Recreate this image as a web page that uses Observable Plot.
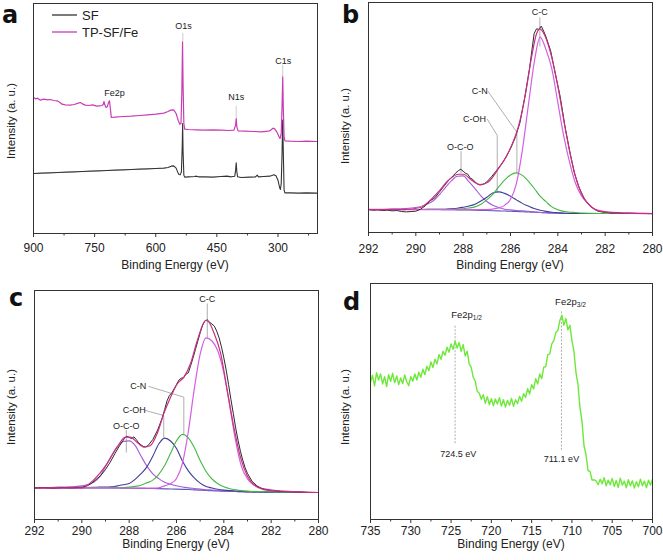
<!DOCTYPE html>
<html><head><meta charset="utf-8">
<script src="https://cdn.jsdelivr.net/npm/d3@7"></script>
<script src="https://cdn.jsdelivr.net/npm/@observablehq/plot@0.6"></script>
<style>
body{margin:0;background:#fff;}
#wrap{position:relative;width:663px;height:560px;overflow:hidden;font-family:"Liberation Sans",Arial,sans-serif;}
.panel{position:absolute;}
</style></head><body><div id="wrap"></div>
<script>
// ---------- Panel a : survey spectra ----------
const surveyTicks = [900, 750, 600, 450, 300];
const surveyMinor = [825, 675, 525, 375, 225];
const sfSpectrum = [[900,180],[880,181],[860,182],[840,183],[820,184],[800,185],[780,186],[760,187],[740,188],[720,189],[700,190],[680,191],[660,192],[640,193],[620,194],[600,195],[580,196],[570,198],[562,202],[556,203],[550,196],[546,184],[543,177],[540,176],[537,185],[535,260],[534,330],[533,250],[531,175],[529,169],[520,170],[505,171],[500,172],[495,170],[480,170],[460,169],[440,171],[425,172],[415,170],[406,172],[404,190],[402.5,212],[401,185],[399,170],[390,168],[370,169],[355,170],[351,175],[348,170],[335,171],[320,172],[310,176],[305,173],[300,160],[296,138],[294,132],[292,150],[290,240],[288.5,340],[287,250],[285,130],[283,122],[270,122],[250,121],[230,122],[205,121]];
const tpSpectrum = [[900,408],[895,404],[890,406],[883,400],[875,403],[865,401],[859,402],[850,399],[842,398],[835,393],[830,388],[822,386],[810,385],[800,387],[790,391],[785,393],[780,389],[773,385],[765,384],[755,386],[745,382],[738,383],[732,384],[729,387],[727,396],[725,386],[722,378],[719,380],[716,392],[713.5,398],[711,370],[709,348],[700,349],[680,351],[660,352],[640,354],[620,356],[600,358],[580,361],[570,366],[563,370],[556,371],[550,360],[545,340],[541,328],[538,330],[536,420],[534.2,575],[533,450],[531,330],[529,313],[520,312],[500,311],[480,310],[460,311],[440,310],[420,309],[408,310],[404,325],[402.5,345],[401,320],[398,308],[380,307],[360,306],[340,305],[320,308],[312,316],[308,314],[303,305],[298,292],[295,285],[292,300],[290,380],[288.3,470],[287,380],[285,290],[283,278],[270,277],[250,276],[230,277],[205,276]];
const surveyPeakNames = ["O1s", "Fe2p", "N1s", "C1s"];
const surveyPeakEnergy = [532, 701, 402.5, 287];
const surveyPeakTextLevel = [622, 422, 408, 517];
const surveyLeaders = [{id:"O1s",e:533.5,i:600},{id:"O1s",e:533.5,i:578},{id:"N1s",e:402.5,i:382},{id:"N1s",e:402.5,i:348},{id:"C1s",e:288.4,i:505},{id:"C1s",e:288.4,i:472}];

// ---------- Panels b, c : C1s fits ----------
const c1sTicks = [292, 290, 288, 286, 284, 282, 280];
const c1sMinor = [291, 289, 287, 285, 283, 281];
const c1sGrid = [292,291.5,291,290.5,290,289.5,289.25,289,288.75,288.5,288.25,288,287.75,287.5,287.25,287,286.75,286.5,286.25,286,285.75,285.5,285.25,285,284.75,284.5,284.25,284,283.75,283.5,283.25,283,282.75,282.5,282,281.5,281,280.5,280];

const bBackground = [69,69,69,69,69,69,69,69,68.5,68.5,68,68,67.5,67,66.5,66,65.5,65,64.5,64,63,62.5,61.5,61,60,59.5,58.5,58,57.5,57,57,57,57,57,57,57,57,57,57];
const bOCO = [70,70,71,72,75,86,96,114,135,155,169,170,152,132,110,93,82,75,70,68,66,65,63.5,62.5,60,59.5,58.5,58,57.5,57,57,57,57,57,57,57,57,57,57];
const bCOH = [69,69,69,69,69,69.5,69.5,69.5,70,71.5,73,76,79.5,85,94.5,106,118.5,122,117.5,109,98,87.5,79.5,72,67,63.5,61,59.5,58,57.5,57,57,57,57,57,57,57,57,57];
const bCN = [69,69,69,69,69,69.5,69.5,70,70,70,70.3,71.5,73.5,77,85,98,114.5,137,157.5,173,179,171.5,154.5,133,109,92.5,77,68.5,63.5,61,60,58.5,58,57.5,57,57,57,57,57];
const bCC = [69,69,69,69,69,69,69,69,68.5,69,69,69,69,68.5,68.5,69,70.5,74,81.5,100,147,246.5,380,510,587,549.5,490.5,390,289.5,210,147,110,89,73,63,60,58.5,57.5,57];
const bEnvelope = [[292,69],[290.5,69],[289.8,75],[289.47,92],[289.05,122],[288.62,157],[288.2,175],[287.99,175],[287.64,157],[287.29,144],[286.94,152],[286.51,192],[286.23,222],[285.95,262],[285.67,317],[285.39,407],[285.11,527],[284.9,597],[284.76,612],[284.55,592],[284.26,527],[283.98,432],[283.7,317],[283.42,217],[283.14,142],[282.86,99],[282.58,77],[282.3,65],[281.6,59],[280,57]];
const bRaw = [[292,69],[291.8,67],[291.6,68],[291.4,66],[291.2,67],[291,65],[290.8,66],[290.6,63],[290.4,62],[290.2,63],[290,64],[289.8,70],[289.6,80],[289.4,95],[289.2,104],[289,122],[288.8,140],[288.6,158],[288.4,172],[288.3,180],[288.2,186],[288.1,190],[288,184],[287.9,178],[287.8,175],[287.7,163],[287.6,160],[287.5,152],[287.4,146],[287.3,143],[287.2,144],[287.1,147],[287,152],[286.8,168],[286.6,185],[286.4,204],[286.3,214],[286.2,225],[286,252],[285.8,285],[285.6,330],[285.4,405],[285.2,490],[285.1,545],[285,598],[284.9,612],[284.8,610],[284.7,620],[284.6,605],[284.5,588],[284.3,545],[284.1,475],[283.9,408],[283.7,320],[283.5,245],[283.3,178],[283.1,135],[282.9,103],[282.7,84],[282.5,72],[282.3,64],[282.1,61],[281.9,60],[281.7,58],[281.5,59],[281.2,57],[281,58],[280.5,57],[280,57]];

const cBackground = [95,95,95,95,95,95,95,95,94.5,94.5,94,94,93.5,93.5,93,93,92.5,92,91.5,91,90.5,90,89,88,87,86.5,85.5,85,84.5,84,83.5,83,82.5,82.5,82,81.5,81.5,81,81];
const cOCO = [96,96,97,98,101,112,128,159,191,218.5,234,236,222.5,190.5,160,137,122.5,112,105.5,101,97.5,95,93,91,89,88.5,87,86,85,84,83.5,83,82.5,82.5,82,81.5,81.5,81,81];
const cCOH = [95,95,95.5,95.5,96,96.5,97,97,98,101,104,108,120.5,137.5,158,190,226.5,244,235.5,213,175.5,146,125,109,99,94.5,90.5,88,86.5,85.5,84.5,83.5,83,82.5,82,81.5,81.5,81,81];
const cCN = [95.5,95.5,95.5,95.5,95.5,95.5,95.5,95.5,95,95,95.5,97,99.5,102.5,110,118,135.5,162,198.5,236,255.5,245,216,177,144,121.5,107.5,98,92.5,89,86.5,85,84,83.5,82.5,82,81.5,81,81];
const cCC = [95,95,95,95,95,95,95,95,94.5,94.5,94.5,94.5,94,94,94,94,95,101,107.5,123,168.5,264,391,496,545,535.5,505,440,340,235,158,122,104,96,89,84,82.5,81.5,81];
const cEnvelope = [[292,95],[290,95],[289.5,119],[288.94,167],[288.51,217],[288.16,247],[287.95,247],[287.67,232],[287.38,217],[287.1,222],[286.82,257],[286.54,317],[286.25,367],[285.97,407],[285.69,427],[285.41,467],[285.12,537],[284.77,597],[284.63,592],[284.42,560],[284.14,500],[283.85,385],[283.57,275],[283.29,185],[283,130],[282.72,104],[282.16,88],[280,81]];
const cRaw = [[292,95],[291.6,96],[291.2,94],[290.8,96],[290.4,95],[290,97],[289.8,100],[289.6,108],[289.4,120],[289.2,132],[289,150],[288.8,172],[288.6,198],[288.4,222],[288.2,243],[288.1,250],[288,246],[287.9,243],[287.8,248],[287.7,240],[287.6,230],[287.5,224],[287.4,219],[287.3,218],[287.2,222],[287,240],[286.8,268],[286.6,305],[286.5,330],[286.4,356],[286.3,372],[286.2,380],[286.1,392],[286,405],[285.9,418],[285.8,424],[285.7,425],[285.6,436],[285.5,440],[285.4,462],[285.3,485],[285.2,510],[285.1,535],[285,560],[284.9,582],[284.8,596],[284.7,599],[284.6,592],[284.5,586],[284.4,580],[284.3,565],[284.2,545],[284.1,518],[284,485],[283.9,448],[283.8,405],[283.7,360],[283.6,318],[283.5,275],[283.4,238],[283.3,205],[283.2,178],[283.1,155],[283,138],[282.8,114],[282.6,101],[282.4,93],[282.2,89],[282,87],[281.6,84],[281.2,83],[280.8,82],[280.4,81],[280,81]];

const c1sNames = ["C-C", "O-C-O", "C-OH", "C-N"];
const bNameEnergy = [284.76, 288.12, 287.52, 287.3];
const bNameLevel = [662, 257, 340, 425];
const bLeaders = [
  {id:"cc",e:284.76,i:645},{id:"cc",e:284.76,i:560},
  {id:"oco",e:288.09,i:243},{id:"oco",e:288.09,i:180},
  {id:"coh",e:286.98,i:340},{id:"coh",e:286.56,i:292},{id:"coh",e:286.56,i:122},
  {id:"cn",e:286.95,i:424},{id:"cn",e:285.84,i:312},{id:"cn",e:285.73,i:302},{id:"cn",e:285.73,i:179}
];
const cNameEnergy = [284.7, 288.12, 287.78, 287.62];
const cNameLevel = [662, 280, 329, 399];
const cLeaders = [
  {id:"cc",e:284.7,i:647},{id:"cc",e:284.7,i:545},
  {id:"oco",e:288.12,i:267},{id:"oco",e:288.12,i:202},
  {id:"coh",e:287.31,i:327},{id:"coh",e:286.54,i:312},{id:"coh",e:286.54,i:247},
  {id:"cn",e:287.17,i:399},{id:"cn",e:285.69,i:367},{id:"cn",e:285.69,i:257}
];

// ---------- Panel d : Fe2p ----------
const feTicks = [735, 730, 725, 720, 715, 710, 705, 700];
const feMinor = [732.5, 727.5, 722.5, 717.5, 712.5, 707.5, 702.5];
const feSpectrum = [[735,412],[734.75,432],[734.5,400],[734.25,440],[734,418],[733.75,436],[733.5,406],[733.25,428],[733,398],[732.75,434],[732.5,414],[732.25,438],[732,410],[731.75,430],[731.5,404],[731.25,424],[731,407],[730.75,433],[730.5,412],[730.25,401],[730,428],[729.75,414],[729.5,436],[729.25,418],[729,441],[728.75,426],[728.5,450],[728.25,434],[728,459],[727.75,446],[727.5,472],[727.25,455],[727,480],[726.75,466],[726.5,494],[726.25,480],[726,504],[725.75,492],[725.5,516],[725.25,501],[725,526],[724.75,510],[724.5,534],[724.25,514],[724,530],[723.75,504],[723.5,524],[723.25,490],[723,504],[722.75,466],[722.5,456],[722.25,426],[722,414],[721.75,384],[721.5,378],[721.25,360],[721,374],[720.75,348],[720.5,368],[720.25,344],[720,362],[719.75,341],[719.5,361],[719.25,346],[719,365],[718.75,340],[718.5,359],[718.25,337],[718,357],[717.75,342],[717.5,363],[717.25,339],[717,359],[716.75,347],[716.5,369],[716.25,354],[716,377],[715.75,366],[715.5,392],[715.25,376],[715,404],[714.75,391],[714.5,422],[714.25,406],[714,436],[713.75,422],[713.5,456],[713.25,458],[713,494],[712.75,496],[712.5,526],[712.25,536],[712,560],[711.75,566],[711.5,596],[711.25,612],[711,582],[710.75,602],[710.5,568],[710.25,582],[710,536],[709.75,504],[709.5,441],[709.25,404],[709,336],[708.75,294],[708.5,221],[708.25,194],[708,146],[707.75,144],[707.5,118],[707.25,119],[707,116],[706.75,104],[706.5,121],[706.25,107],[706,125],[705.75,101],[705.5,118],[705.25,104],[705,123],[704.75,99],[704.5,117],[704.25,96],[704,124],[703.75,103],[703.5,115],[703.25,95],[703,119],[702.75,101],[702.5,116],[702.25,94],[702,113],[701.75,98],[701.5,121],[701.25,101],[701,115],[700.75,95],[700.5,118],[700.25,103],[700,121]];
const feSubNames = ["1/2", "3/2"];
const feLabelEnergy = [722.3, 709.4];
const feLabelLevel = [612, 652];
const fePeakValues = ["724.5 eV", "711.1 eV"];
const fePeakEnergy = [724.5, 711.3];
const fePeakTextEnergy = [724.1, 711.3];
const fePeakTextLevel = [195, 182];
const fePeakLineTop = [582, 622];
const fePeakLineBottom = [227, 207];

// ---------- helpers ----------
const FONT = "Liberation Sans, Arial, sans-serif";
const wrap = document.getElementById("wrap");
const px = d => d[0], py = d => d[1];
const gridRows = (vals) => c1sGrid.map((e, k) => ({e, v: vals[k]}));

function panel(cfg) {
  const svg = Plot.plot({
    width: cfg.width, height: 280,
    marginTop: cfg.mt, marginBottom: cfg.mb, marginLeft: cfg.ml, marginRight: cfg.mr,
    x: {domain: cfg.xdom, label: null},
    y: {domain: cfg.ydom, axis: null, label: null},
    style: {fontFamily: FONT, fontSize: "12px", color: "#222", background: "white", overflow: "visible"},
    marks: [
      ...cfg.marks,
      Plot.frame({stroke: "#333", strokeWidth: 1}),
      Plot.axisX(cfg.major, {tickSize: 4, tickPadding: cfg.gap - 4, label: null, fontSize: 12, stroke: "#333"}),
      Plot.axisX(cfg.minor, {tickSize: 2.5, tickFormat: () => "", label: null, stroke: "#333"})
    ]
  });
  const div = document.createElement("div");
  div.className = "panel";
  div.style.left = cfg.left + "px";
  div.style.top = cfg.top + "px";
  div.appendChild(svg);
  wrap.appendChild(div);
  const s = d3.select(svg);
  const fx0 = cfg.ml, fx1 = cfg.width - cfg.mr;
  s.append("text").attr("x", (fx0 + fx1) / 2).attr("y", cfg.titleY)
    .attr("text-anchor", "middle").attr("font-size", 12).attr("fill", "#222")
    .attr("font-family", FONT).text("Binding Energy (eV)");
  s.append("text").attr("transform", `translate(${cfg.yTitleX},${cfg.yTitleY}) rotate(-90)`)
    .attr("text-anchor", "middle").attr("dominant-baseline", "middle").attr("font-size", 11.5).attr("fill", "#222")
    .attr("font-family", FONT).text("Intensity (a. u.)");
  s.append("text").attr("x", cfg.letterX).attr("y", cfg.letterY)
    .attr("text-anchor", "start")
    .attr("font-size", 24).attr("font-weight", "bold").attr("fill", "#111")
    .attr("font-family", "DejaVu Sans, Liberation Sans, Arial").text(cfg.letter);
  return s;
}

// ---------- panel a ----------
const sa = panel({
  left: 0, top: 0, width: 331, mt: 3, mb: 47, ml: 33, mr: 14,
  xdom: [900, 203], ydom: [0, 690], major: surveyTicks, minor: surveyMinor, gap: 10,
  titleY: 269, yTitleX: 12, yTitleY: 121, letter: "a", letterX: 2, letterY: 22.5,
  marks: [
    Plot.line(surveyLeaders, {x: "e", y: "i", z: "id", stroke: "#ccc", strokeWidth: 1}),
    Plot.line(sfSpectrum, {x: px, y: py, stroke: "#333", strokeWidth: 1.1}),
    Plot.line(tpSpectrum, {x: px, y: py, stroke: "#c83cb4", strokeWidth: 1.2}),
    Plot.text(surveyPeakNames, {x: (d, k) => surveyPeakEnergy[k], y: (d, k) => surveyPeakTextLevel[k], text: d => d, fontSize: 9, fill: "#222"})
  ]
});
// legend for panel a
[["SF", "#333", 15], ["TP-SF/Fe", "#c83cb4", 32]].forEach(([name, col, y]) => {
  sa.append("line").attr("x1", 52).attr("x2", 77).attr("y1", y).attr("y2", y).attr("stroke", col).attr("stroke-width", 1.3);
  sa.append("text").attr("x", 82).attr("y", y + 4.5).attr("text-anchor", "start")
    .attr("font-size", 13).attr("fill", "#222").attr("font-family", FONT).text(name);
});

// ---------- panels b / c ----------
function fitMarks(bg, oco, coh, cn, cc, env, raw, names, nameE, nameI, leaders) {
  return [
    Plot.line(leaders, {x: "e", y: "i", z: "id", stroke: "#999", strokeWidth: 0.8}),
    Plot.line(gridRows(bg), {x: "e", y: "v", stroke: "#5b5bbf", strokeWidth: 1.1, curve: "monotone-x"}),
    Plot.line(gridRows(oco), {x: "e", y: "v", stroke: "#a65ad8", strokeWidth: 1.1, curve: "monotone-x"}),
    Plot.line(gridRows(coh), {x: "e", y: "v", stroke: "#3e3e9a", strokeWidth: 1.1, curve: "monotone-x"}),
    Plot.line(gridRows(cn), {x: "e", y: "v", stroke: "#45b845", strokeWidth: 1.1, curve: "monotone-x"}),
    Plot.line(gridRows(cc), {x: "e", y: "v", stroke: "#d45ee0", strokeWidth: 1.2, curve: "monotone-x"}),
    Plot.line(raw, {x: px, y: py, stroke: "#2a2a2a", strokeWidth: 1}),
    Plot.line(env, {x: px, y: py, stroke: "#c8307f", strokeWidth: 1.2, curve: "monotone-x"}),
    Plot.text(names, {x: (d, k) => nameE[k], y: (d, k) => nameI[k], text: d => d, fontSize: 9, fill: "#222"})
  ];
}
panel({
  left: 331, top: 0, width: 332, mt: 2, mb: 48, ml: 37, mr: 11,
  xdom: [292, 280], ydom: [0, 691], major: c1sTicks, minor: c1sMinor, gap: 11.5,
  titleY: 269, yTitleX: 15, yTitleY: 126, letter: "b", letterX: 11, letterY: 22.5,
  marks: fitMarks(bBackground, bOCO, bCOH, bCN, bCC, bEnvelope, bRaw, c1sNames, bNameEnergy, bNameLevel, bLeaders)
});
panel({
  left: 0, top: 280, width: 331, mt: 10, mb: 41, ml: 34, mr: 13,
  xdom: [292, 280], ydom: [0, 687], major: c1sTicks, minor: c1sMinor, gap: 7,
  titleY: 267.5, yTitleX: 12, yTitleY: 127, letter: "c", letterX: 9, letterY: 26,
  marks: fitMarks(cBackground, cOCO, cCOH, cCN, cCC, cEnvelope, cRaw, c1sNames, cNameEnergy, cNameLevel, cLeaders)
});

// ---------- panel d ----------
panel({
  left: 331, top: 280, width: 332, mt: 3, mb: 41, ml: 39, mr: 11,
  xdom: [735, 700], ydom: [0, 707], major: feTicks, minor: feMinor, gap: 7,
  titleY: 267.5, yTitleX: 15, yTitleY: 127, letter: "d", letterX: 12, letterY: 30,
  marks: [
    Plot.ruleX(fePeakEnergy, {x: d => d, y1: (d, k) => fePeakLineBottom[k], y2: (d, k) => fePeakLineTop[k], stroke: "#999", strokeWidth: 0.8, strokeDasharray: "2,1.5"}),
    Plot.line(feSpectrum, {x: px, y: py, stroke: "#6ee83a", strokeWidth: 1.4}),
    Plot.text(feSubNames, {x: (d, k) => feLabelEnergy[k], y: (d, k) => feLabelLevel[k], text: () => "Fe2p", textAnchor: "end", fontSize: 9.5, fill: "#222"}),
    Plot.text(feSubNames, {x: (d, k) => feLabelEnergy[k], y: (d, k) => feLabelLevel[k], text: d => d, textAnchor: "start", dy: 3, fontSize: 6.5, fill: "#222"}),
    Plot.text(fePeakValues, {x: (d, k) => fePeakTextEnergy[k], y: (d, k) => fePeakTextLevel[k], text: d => d, fontSize: 9, fill: "#222"})
  ]
});
</script></body></html>
